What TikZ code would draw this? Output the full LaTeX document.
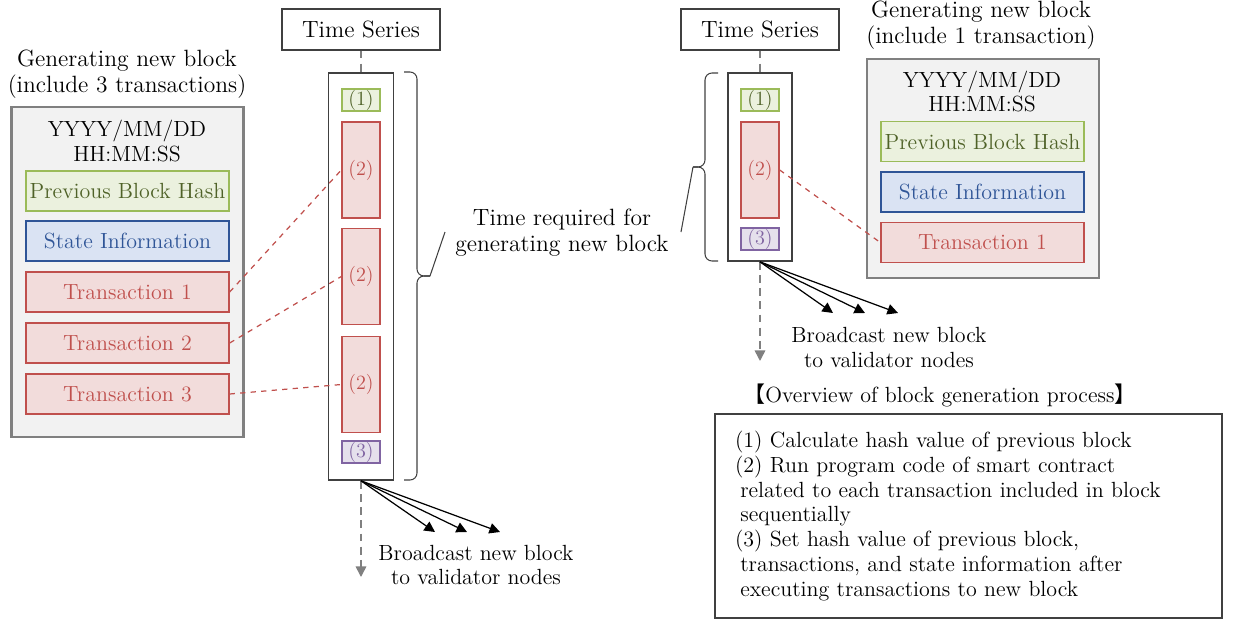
\documentclass[tikz,border=0pt]{standalone}
\usepackage{fontspec}
\usepackage{xcolor}
\usetikzlibrary{arrows.meta}
\newfontfamily\cjkfont{Noto Sans CJK JP}

\definecolor{hashline}{HTML}{9BBB59}
\definecolor{hashfill}{HTML}{EBF1DE}
\definecolor{hashtext}{HTML}{4F6228}
\definecolor{stateline}{HTML}{2F5597}
\definecolor{statefill}{HTML}{DAE3F3}
\definecolor{txline}{HTML}{C0504D}
\definecolor{txfill}{HTML}{F2DCDB}
\definecolor{sealline}{HTML}{8064A2}
\definecolor{sealfill}{HTML}{E5E0EC}
\definecolor{blockline}{HTML}{808080}
\definecolor{blockfill}{HTML}{F2F2F2}
\definecolor{frameline}{HTML}{404040}

\tikzset{
  big/.style={font=\fontsize{13.4}{14.7}\selectfont},
  mid/.style={font=\fontsize{12.5}{14.2}\selectfont},
  block/.style={draw=blockline, fill=blockfill, line width=1.6pt, minimum width=4.64cm, inner sep=0pt},
  field/.style={mid, line width=0.8pt, minimum width=4.06cm, minimum height=0.8cm, inner sep=0pt},
  hashbox/.style={field, draw=hashline, fill=hashfill, text=hashtext},
  statebox/.style={field, draw=stateline, fill=statefill, text=stateline},
  txbox/.style={field, draw=txline, fill=txfill, text=txline},
  stepbox/.style={font=\fontsize{11.5}{13}\selectfont, line width=0.8pt, minimum width=0.76cm, inner sep=0pt},
  hstep/.style={stepbox, draw=hashline, fill=hashfill, text=hashtext, minimum height=0.44cm},
  rstep/.style={stepbox, draw=txline, fill=txfill, text=txline, minimum height=1.92cm},
  sstep/.style={stepbox, draw=sealline, fill=sealfill, text=sealline, minimum height=0.44cm},
  column/.style={draw=frameline, line width=1pt, minimum width=1.3cm, inner sep=0pt},
  tsbox/.style={big, draw=frameline, line width=0.6pt, minimum width=3.16cm, minimum height=0.82cm},
  link/.style={txline, dashed, line width=0.7pt},
  tsdash/.style={blockline, dash pattern=on 4.5pt off 3pt, line width=0.9pt},
  timeline/.style={tsdash, -{Triangle[length=6pt,width=6pt]}},
  bcast/.style={black, line width=0.7pt, -{Triangle[length=6pt,width=6pt]}},
  tbrace/.style={frameline, line width=0.6pt, rounded corners=4pt},
  lead/.style={frameline, line width=0.6pt},
}

\begin{document}
\begin{tikzpicture}[x=0.02cm,y=-0.02cm]
    \useasboundingbox (0,0) rectangle (1235,622);
    %左侧新区块
    \node[big, align=center] (titleL) at (127,74) {Generating new block\\(include 3 transactions)};
    \node[block, minimum height=6.6cm] (blockL) at (127.5,272) {};
    \node[mid, align=center] (dateL) at (127,141) {YYYY/MM/DD\\HH:MM:SS};
    \node[hashbox] (hashL) at (127.5,191) {Previous Block Hash};
    \node[statebox] (stateL) at (127.5,241) {State Information};
    \foreach \i/\y in {1/292,2/343,3/394}{\node[txbox] (txL\i) at (127.5,\y) {Transaction \i};}
    %左侧时间序列
    \node[tsbox] (tsL) at (361,29.5) {Time Series};
    \node[column, minimum height=8.14cm] (colL) at (361,276.5) {};
    \node[hstep] (s1L) at (361,100) {(1)};
    \foreach \i/\y in {1/170,2/276.5,3/384.5}{\node[rstep] (s2L\i) at (361,\y) {(2)};}
    \node[sstep] (s3L) at (361,452) {(3)};
    \foreach \i in {1,2,3}{\draw[link] (txL\i.east) -- (s2L\i.west);}
    \draw[tsdash] (tsL.south) -- (colL.north);
    \coordinate (endL) at (361,577);
    \draw[timeline] (colL.south) -- (endL);
    \foreach \x [count=\k] in {435,467,500}{\coordinate (bL\k) at (\x,532); \draw[bcast] (colL.south) -- (bL\k);}
    \node[mid, align=center] (bcastL) at (476,565) {Broadcast new block\\to validator nodes};
    %生成时间
    \coordinate (tipL) at (430,276);
    \draw[tbrace] (404,72) -| (417,276) -- (tipL);
    \draw[tbrace] (404,480) -| (417,276) -- (tipL);
    \coordinate (leadL) at (445,232);
    \draw[lead] (tipL) -- (leadL);
    \node[big, align=center] (needtime) at (562,233) {Time required for\\generating new block};
    %右侧时间序列
    \node[tsbox] (tsR) at (760,29.5) {Time Series};
    \node[column, minimum width=1.28cm, minimum height=3.76cm] (colR) at (760,167) {};
    \node[hstep] (s1R) at (760,100) {(1)};
    \node[rstep] (s2R) at (760,170) {(2)};
    \node[sstep] (s3R) at (760,239) {(3)};
    \draw[tsdash] (tsR.south) -- (colR.north);
    \coordinate (endR) at (760,361);
    \draw[timeline] (colR.south) -- (endR);
    \foreach \x [count=\k] in {833,865,898}{\coordinate (bR\k) at (\x,313); \draw[bcast] (colR.south) -- (bR\k);}
    \node[mid, align=center] (bcastR) at (889,347.5) {Broadcast new block\\to validator nodes};
    \coordinate (tipR) at (693,167);
    \draw[tbrace] (718,73) -| (705,167) -- (tipR);
    \draw[tbrace] (718,261) -| (705,167) -- (tipR);
    \coordinate (leadR) at (681,232);
    \draw[lead] (tipR) -- (leadR);
    %右侧新区块
    \node[big, align=center] (titleR) at (981,25) {Generating new block\\(include 1 transaction)};
    \node[block, minimum height=4.38cm] (blockR) at (983,168.5) {};
    \node[mid, align=center] (dateR) at (982,91.5) {YYYY/MM/DD\\HH:MM:SS};
    \node[hashbox] (hashR) at (982.5,141.5) {Previous Block Hash};
    \node[statebox] (stateR) at (982.5,192) {State Information};
    \node[txbox] (txR) at (982.5,242.5) {Transaction 1};
    \draw[link] (s2R.east) -- (txR.west);
    %处理流程说明
    \node[mid] (ovtitle) at (940,395) {{\cjkfont 【}Overview of block generation process{\cjkfont 】}};
    \node[mid, draw=frameline, line width=0.8pt, minimum width=10.14cm, minimum height=4.08cm,
          inner xsep=0.4cm, text width=9.34cm, align=left] (overview) at (968.5,516)
         {(1) Calculate hash value of previous block\\
          (2) Run program code of smart contract\\
          \hspace*{3pt}related to each transaction included in block\\
          \hspace*{3pt}sequentially\\
          (3) Set hash value of previous block,\\
          \hspace*{3pt}transactions, and state information after\\
          \hspace*{3pt}executing transactions to new block};
\end{tikzpicture}
\end{document}
